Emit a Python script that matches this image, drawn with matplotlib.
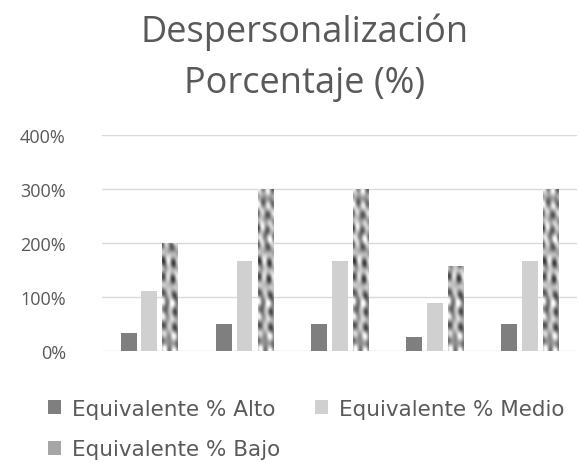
import matplotlib.pyplot as plt
import numpy as np

plt.rcParams['font.family'] = ['Open Sans', 'DejaVu Sans']

grupos = ['1', '2', '3', '4', '5']
alto = [0.33, 0.50, 0.50, 0.25, 0.50]
medio = [1.11, 1.67, 1.67, 0.89, 1.67]
bajo = [2.00, 3.00, 3.00, 1.58, 3.00]
series = ['Equivalente % Alto', 'Equivalente % Medio', 'Equivalente % Bajo']

texto = '#595959'

fig = plt.figure(figsize=(5.79, 4.64), dpi=100)
ax = fig.add_axes([0.176, 0.2414, 0.821, 0.4655])

x = np.arange(len(grupos))
w = 0.168
b1 = ax.bar(x - 0.216, alto, w, color='#7f7f7f', label=series[0], zorder=3)
b2 = ax.bar(x, medio, w, color='#d0d0d0', label=series[1], zorder=3)
b3 = ax.bar(x + 0.221, bajo, w, color='#a6a6a6', label=series[2], zorder=3)

# textura moteada (tipo granito) para la serie "Bajo"
yy, xx = np.mgrid[0:220, 0:16].astype(float)
tex = (np.sin(0.42 * xx + 0.22 * yy) * np.sin(0.3 * xx - 0.17 * yy + 1.0)
       + 0.8 * np.sin(0.14 * yy + 0.66 * xx + 0.3) * np.cos(0.25 * yy)
       + 0.6 * np.sin(0.08 * yy) * np.cos(0.55 * xx + 0.1 * yy)
       + 0.4 * np.sin(0.37 * yy - 0.5 * xx + 2.0))
for p in b3.patches:
    x0 = p.get_x()
    im = ax.imshow(tex, extent=[x0, x0 + p.get_width(), 0, 4], cmap='gray',
                   vmin=-3.2, vmax=1.7, aspect='auto', interpolation='bicubic',
                   origin='lower', zorder=3.5)
    im.set_clip_path(p)

ax.set_xlim(-0.5, 4.5)
ax.set_ylim(0, 4)
ax.set_yticks([0, 1, 2, 3, 4])
ax.set_yticklabels(['0%', '100%', '200%', '300%', '400%'])
ax.set_xticks([])
ax.grid(axis='y', color='#d9d9d9', linewidth=1, zorder=0)
for s in ax.spines.values():
    s.set_visible(False)
ax.tick_params(axis='y', length=0, pad=26, labelsize=13, labelcolor=texto)

fig.text(0.526, 0.909, 'Despersonalización', ha='center', va='baseline',
         fontsize=26, color=texto)
fig.text(0.526, 0.800, 'Porcentaje (%)', ha='center', va='baseline',
         fontsize=26, color=texto)

# orden por columnas para que Alto y Medio queden en la primera fila
handles = [b1, b3, b2]
labels = [series[0], series[2], series[1]]
fig.legend(handles, labels, loc='center left', bbox_to_anchor=(0.083, 0.073),
           ncol=2, frameon=False, labelcolor=texto,
           prop={'family': 'DejaVu Sans', 'size': 15.5},
           handlelength=0.62, handleheight=0.62, handletextpad=0.5,
           columnspacing=1.6, labelspacing=0.95, borderpad=0, borderaxespad=0)

fig.savefig('out.png', dpi=100)
